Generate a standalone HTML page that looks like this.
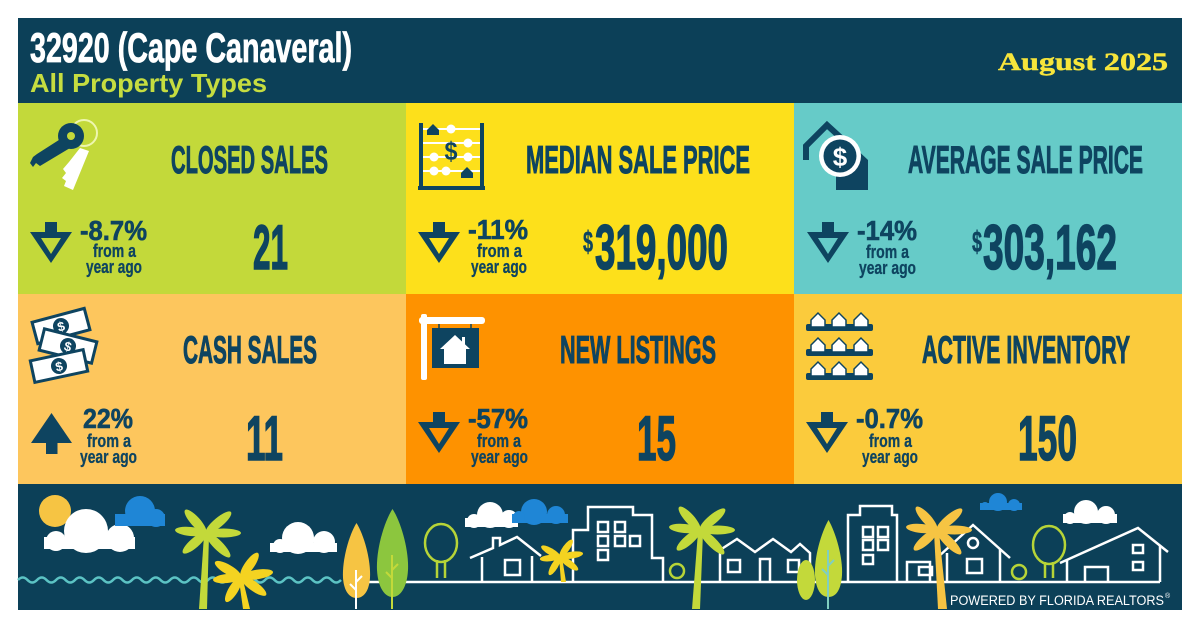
<!DOCTYPE html>
<html><head><meta charset="utf-8"><style>
html,body{margin:0;padding:0;background:#fff;width:1200px;height:628px;overflow:hidden}
svg{display:block}
</style></head><body>
<svg width="1200" height="628" viewBox="0 0 1200 628" xmlns="http://www.w3.org/2000/svg">
<defs>
<g id="dn"><path d="M0 10H42L21 41Z M11 16L21 32L31 16Z" fill-rule="evenodd"/><rect x="15" y="0" width="12" height="12"/></g>
<g id="up"><path d="M20.5 0L41 30H0Z"/><rect x="15" y="29" width="11.5" height="12"/></g>
<g id="palm">
<ellipse rx="15.5" ry="4.8" transform="translate(-10.5,-11.5) rotate(-132)"/>
<ellipse rx="16.3" ry="4.8" transform="translate(12.5,-10.5) rotate(-40)"/>
<ellipse rx="15.5" ry="4.5" transform="translate(-15.5,-1.5) rotate(-174.5)"/>
<ellipse rx="17.5" ry="4.5" transform="translate(17.5,0)"/>
<ellipse rx="15.3" ry="4.8" transform="translate(-11.5,10) rotate(139)"/>
<ellipse rx="17" ry="4.8" transform="translate(12,12) rotate(45)"/>
</g>
<g id="palm2">
<ellipse rx="15" ry="4.8" transform="translate(-13,-7.5) rotate(-150)"/>
<ellipse rx="14.7" ry="4.8" transform="translate(8.5,-12) rotate(-54.7)"/>
<ellipse rx="16.2" ry="4.8" transform="translate(16,-2.5) rotate(-8.9)"/>
<ellipse rx="14" ry="4.5" transform="translate(-14,1.5) rotate(174)"/>
<ellipse rx="14.5" ry="4.8" transform="translate(-7.5,12.5) rotate(121)"/>
<ellipse rx="15.5" ry="4.8" transform="translate(12.5,9) rotate(35.8)"/>
</g>
<g id="bill"><rect x="-27" y="-11" width="54" height="22" fill="#fff" stroke="#0e4460" stroke-width="3"/><circle r="8" fill="#0e4460"/><text x="0" y="5" font-family="Liberation Sans, Arial, sans-serif" font-weight="bold" font-size="13" fill="#fff" text-anchor="middle">$</text></g>
<g id="hs"><path d="M-7 -4L0 -11L7 -4V3H-7Z" fill="#fff" stroke="#0e4460" stroke-width="1.5"/></g>
</defs>

<!-- main panel -->
<rect x="18" y="18" width="1164" height="592" fill="#0c4058"/>

<!-- header -->
<text x="30" y="62" font-family="Liberation Sans, Arial, sans-serif" font-weight="bold" font-size="42" fill="#fff" stroke="#fff" stroke-width="0.8" textLength="322" lengthAdjust="spacingAndGlyphs">32920 (Cape Canaveral)</text>
<text x="30" y="92" font-family="Liberation Sans, Arial, sans-serif" font-weight="bold" font-size="26" fill="#c6dd40" textLength="237" lengthAdjust="spacingAndGlyphs">All Property Types</text>
<text x="998" y="70" font-family="Liberation Serif, serif" font-weight="bold" font-size="25" fill="#f7e53b" stroke="#f7e53b" stroke-width="0.4" textLength="170" lengthAdjust="spacingAndGlyphs">August 2025</text>

<!-- tiles -->
<rect x="18" y="103" width="388" height="191" fill="#c3d93a"/>
<rect x="406" y="103" width="388" height="191" fill="#fde01b"/>
<rect x="794" y="103" width="388" height="191" fill="#66cbc8"/>
<rect x="18" y="294" width="388" height="190" fill="#fdc65d"/>
<rect x="406" y="294" width="388" height="190" fill="#fe9200"/>
<rect x="794" y="294" width="388" height="190" fill="#fbcb3c"/>

<g font-family="Liberation Sans, Arial, sans-serif" font-weight="bold" fill="#0e4460" stroke="#0e4460" lengthAdjust="spacingAndGlyphs">
<text x="171" y="173" font-size="39" stroke-width="1" textLength="157" lengthAdjust="spacingAndGlyphs">CLOSED SALES</text>
<text x="526" y="173" font-size="39" stroke-width="1" textLength="224" lengthAdjust="spacingAndGlyphs">MEDIAN SALE PRICE</text>
<text x="908" y="173" font-size="39" stroke-width="1" textLength="235" lengthAdjust="spacingAndGlyphs">AVERAGE SALE PRICE</text>
<text x="183" y="363" font-size="39" stroke-width="1" textLength="134" lengthAdjust="spacingAndGlyphs">CASH SALES</text>
<text x="560" y="363" font-size="39" stroke-width="1" textLength="156" lengthAdjust="spacingAndGlyphs">NEW LISTINGS</text>
<text x="922" y="363" font-size="39" stroke-width="1" textLength="208" lengthAdjust="spacingAndGlyphs">ACTIVE INVENTORY</text>

<text x="253" y="269" font-size="63" stroke-width="1.5" textLength="35" lengthAdjust="spacingAndGlyphs">21</text>
<text x="583" y="252" font-size="30" stroke-width="0.5" textLength="10" lengthAdjust="spacingAndGlyphs">$</text>
<text x="595" y="269" font-size="63" stroke-width="1.5" textLength="133" lengthAdjust="spacingAndGlyphs">319,000</text>
<text x="972" y="252" font-size="30" stroke-width="0.5" textLength="10" lengthAdjust="spacingAndGlyphs">$</text>
<text x="983" y="269" font-size="63" stroke-width="1.5" textLength="134" lengthAdjust="spacingAndGlyphs">303,162</text>
<text x="246" y="460" font-size="63" stroke-width="1.5" textLength="37" lengthAdjust="spacingAndGlyphs">11</text>
<text x="637" y="460" font-size="63" stroke-width="1.5" textLength="39" lengthAdjust="spacingAndGlyphs">15</text>
<text x="1018" y="460" font-size="63" stroke-width="1.5" textLength="59" lengthAdjust="spacingAndGlyphs">150</text>

<text x="80" y="240" font-size="28" stroke-width="0.6" textLength="67" lengthAdjust="spacingAndGlyphs">-8.7%</text>
<text x="93" y="257" font-size="18" stroke-width="0.3" textLength="43" lengthAdjust="spacingAndGlyphs">from a</text>
<text x="86" y="273" font-size="18" stroke-width="0.3" textLength="56" lengthAdjust="spacingAndGlyphs">year ago</text>
<text x="468" y="239" font-size="28" stroke-width="0.6" textLength="60" lengthAdjust="spacingAndGlyphs">-11%</text>
<text x="477" y="257" font-size="18" stroke-width="0.3" textLength="45" lengthAdjust="spacingAndGlyphs">from a</text>
<text x="471" y="273" font-size="18" stroke-width="0.3" textLength="56" lengthAdjust="spacingAndGlyphs">year ago</text>
<text x="857" y="240" font-size="28" stroke-width="0.6" textLength="60" lengthAdjust="spacingAndGlyphs">-14%</text>
<text x="866" y="258" font-size="18" stroke-width="0.3" textLength="43" lengthAdjust="spacingAndGlyphs">from a</text>
<text x="859" y="274" font-size="18" stroke-width="0.3" textLength="57" lengthAdjust="spacingAndGlyphs">year ago</text>

<text x="83" y="428" font-size="28" stroke-width="0.6" textLength="50" lengthAdjust="spacingAndGlyphs">22%</text>
<text x="87" y="447" font-size="18" stroke-width="0.3" textLength="44" lengthAdjust="spacingAndGlyphs">from a</text>
<text x="80" y="463" font-size="18" stroke-width="0.3" textLength="57" lengthAdjust="spacingAndGlyphs">year ago</text>
<text x="468" y="428" font-size="28" stroke-width="0.6" textLength="60" lengthAdjust="spacingAndGlyphs">-57%</text>
<text x="477" y="447" font-size="18" stroke-width="0.3" textLength="44" lengthAdjust="spacingAndGlyphs">from a</text>
<text x="471" y="463" font-size="18" stroke-width="0.3" textLength="57" lengthAdjust="spacingAndGlyphs">year ago</text>
<text x="856" y="428" font-size="28" stroke-width="0.6" textLength="67" lengthAdjust="spacingAndGlyphs">-0.7%</text>
<text x="869" y="447" font-size="18" stroke-width="0.3" textLength="43" lengthAdjust="spacingAndGlyphs">from a</text>
<text x="862" y="463" font-size="18" stroke-width="0.3" textLength="56" lengthAdjust="spacingAndGlyphs">year ago</text>
</g>

<!-- arrows -->
<g fill="#0e4460">
<use href="#dn" x="30" y="222"/>
<use href="#dn" x="418" y="222"/>
<use href="#dn" x="807" y="222"/>
<use href="#dn" x="418" y="412"/>
<use href="#dn" x="806" y="412"/>
<use href="#up" x="31" y="413"/>
</g>

<!-- key icon -->
<g>
<path d="M80 148 L89 151 L73 190 L64 186 L66 181 L62 178 L66 173 L63 169 L69 162Z" fill="#fff"/>
<circle cx="84" cy="133" r="13" fill="none" stroke="#eef6b0" stroke-width="2"/>
<circle cx="71" cy="136" r="13" fill="#0e4460"/>
<path d="M62 138 L70 148 L40 166 L36 163 L33 167 L30 163 L33 157 L37 154Z" fill="#0e4460"/>
<circle cx="71" cy="136" r="4" fill="#c3d93a"/>
</g>

<!-- abacus icon -->
<g>
<rect x="419" y="123" width="4" height="67" fill="#0e4460"/>
<rect x="480" y="123" width="4" height="67" fill="#0e4460"/>
<rect x="418" y="186" width="67" height="4" fill="#0e4460"/>
<g stroke="#fff" stroke-width="2"><line x1="423" y1="129" x2="480" y2="129"/><line x1="423" y1="143" x2="480" y2="143"/><line x1="423" y1="157" x2="480" y2="157"/><line x1="423" y1="171" x2="480" y2="171"/></g>
<g fill="#fff"><circle cx="451" cy="129" r="4.5"/><circle cx="468" cy="143" r="4.5"/><circle cx="434" cy="157" r="4.5"/><circle cx="468" cy="157" r="4.5"/><circle cx="434" cy="171" r="4.5"/><circle cx="446" cy="171" r="4.5"/></g>
<path d="M427 130 L433 124 L439 130 V135 H427Z" fill="#0e4460"/>
<path d="M461 173 L467 167 L473 173 V178 H461Z" fill="#0e4460"/>
<text x="451" y="160" font-family="Liberation Sans, Arial, sans-serif" font-weight="bold" font-size="26" fill="#0e4460" text-anchor="middle" textLength="13" lengthAdjust="spacingAndGlyphs">$</text>
</g>

<!-- average price icon -->
<g>
<path d="M806 160 V146 L827 125 L852 148" fill="none" stroke="#0e4460" stroke-width="6"/>
<path d="M836 190 V160 L852 145 L868 160 V190Z" fill="#0e4460"/>
<circle cx="840" cy="156" r="21" fill="#fff"/>
<circle cx="840" cy="156" r="16.5" fill="#0e4460"/>
<text x="840" y="166" font-family="Liberation Sans, Arial, sans-serif" font-weight="bold" font-size="26" fill="#fff" text-anchor="middle">$</text>
</g>

<!-- cash icon -->
<use href="#bill" transform="translate(61,326) rotate(-15)"/>
<use href="#bill" transform="translate(68,346) rotate(14)"/>
<use href="#bill" transform="translate(59,366) rotate(-12)"/>

<!-- for-sale sign icon -->
<g>
<rect x="421" y="314" width="6" height="66" rx="2" fill="#fff"/>
<rect x="419" y="317" width="66" height="7" rx="3" fill="#fff"/>
<line x1="439" y1="324" x2="439" y2="329" stroke="#0e4460" stroke-width="1.5"/>
<line x1="471" y1="324" x2="471" y2="329" stroke="#0e4460" stroke-width="1.5"/>
<rect x="432" y="328" width="47" height="40" fill="#0e4460"/>
<path d="M440 349 L455 335 L470 349 H466 V364 H444 V349Z" fill="#fff"/>
<rect x="462" y="337" width="3" height="8" fill="#fff"/>
</g>

<!-- inventory icon -->
<g>
<g fill="#0e4460"><rect x="806" y="324" width="67" height="7" rx="2"/><rect x="806" y="349" width="67" height="7" rx="2"/><rect x="806" y="373" width="67" height="7" rx="2"/></g>
<use href="#hs" x="818" y="324"/><use href="#hs" x="839" y="324"/><use href="#hs" x="861" y="324"/>
<use href="#hs" x="818" y="349"/><use href="#hs" x="839" y="349"/><use href="#hs" x="861" y="349"/>
<use href="#hs" x="818" y="373"/><use href="#hs" x="839" y="373"/><use href="#hs" x="861" y="373"/>
</g>

<!-- bottom illustration -->
<g>
<circle cx="55" cy="511" r="16" fill="#f6c443"/>
<g fill="#fff">
<circle cx="86" cy="531" r="22"/><circle cx="120" cy="538" r="14"/><circle cx="56" cy="541" r="10"/><rect x="44" y="537" width="91" height="12"/>
<circle cx="298" cy="538" r="16"/><circle cx="324" cy="542" r="11"/><circle cx="280" cy="546" r="7"/><rect x="270" y="543" width="67" height="9"/>
<circle cx="490" cy="515" r="13"/><circle cx="509" cy="519" r="9"/><circle cx="474" cy="521" r="7"/><rect x="465" y="518" width="53" height="9"/>
<circle cx="1086" cy="512" r="12"/><circle cx="1106" cy="515" r="9"/><circle cx="1070" cy="518" r="6"/><rect x="1063" y="514" width="54" height="9"/>
</g>
<g fill="#1f86d6">
<circle cx="140" cy="511" r="15"/><circle cx="156" cy="518" r="9"/><rect x="115" y="514" width="50" height="12"/><circle cx="123" cy="520" r="6"/>
<circle cx="534" cy="512" r="13"/><circle cx="556" cy="515" r="9"/><rect x="512" y="514" width="56" height="9"/><circle cx="519" cy="517" r="6"/>
<circle cx="998" cy="502" r="9"/><circle cx="1014" cy="505" r="6"/><rect x="980" y="503" width="42" height="7"/><circle cx="985" cy="506" r="4"/>
</g>
<path d="M18 580 q4.75 -5 9.5 0 t9.5 0 t9.5 0 t9.5 0 t9.5 0 t9.5 0 t9.5 0 t9.5 0 t9.5 0 t9.5 0 t9.5 0 t9.5 0 t9.5 0 t9.5 0 t9.5 0 t9.5 0 t9.5 0 t9.5 0 t9.5 0 t9.5 0 t9.5 0 t9.5 0 t9.5 0 t9.5 0 t9.5 0 t9.5 0 t9.5 0 t9.5 0 t9.5 0 t9.5 0 t9.5 0 t9.5 0 t9.5 0 t9.5 0" fill="none" stroke="#5cc3c4" stroke-width="2.5"/>

<g fill="none" stroke="#fff" stroke-width="2.5" stroke-linejoin="miter">
<path d="M360 582 H1160"/>
<path d="M482 582 V557"/>
<path d="M470 558 L493 548 V538 H500 V545 L517 537 L541 556"/>
<path d="M532 556 V582"/>
<path d="M573 582 V530 H588 V507 H633 V515 H652 V558 H663 V582"/>
<path d="M720 582 V550 L737 539 L755 552 L773 539 L791 552 L800 544 L810 553 V582"/>
<path d="M848 582 V515 H860 V506 H892 V515 H897 V582"/>
<path d="M907 582 V562 H930 V582"/>
<path d="M938 557 L973 525 L1010 558"/>
<path d="M947 553 V582 M1000 549 V582"/>
<path d="M1060 563 L1138 528 L1168 552"/>
<path d="M1067 560 V582 M1160 546 V582"/>
<rect x="505" y="560" width="15" height="15"/>
<rect x="598" y="522" width="10" height="10"/><rect x="615" y="522" width="10" height="10"/>
<rect x="598" y="536" width="10" height="10"/><rect x="615" y="536" width="10" height="10"/><rect x="630" y="536" width="10" height="10"/>
<rect x="598" y="550" width="10" height="10"/>
<rect x="728" y="560" width="12" height="12"/><path d="M760 582 V559 H770 V582"/><rect x="788" y="560" width="11" height="12"/>
<rect x="863" y="527" width="10" height="10"/><rect x="878" y="527" width="10" height="10"/>
<rect x="863" y="540" width="10" height="10"/><rect x="878" y="540" width="10" height="10"/>
<rect x="863" y="555" width="10" height="9"/>
<rect x="919" y="567" width="13" height="8"/>
<circle cx="973" cy="543" r="5"/><rect x="967" y="559" width="15" height="14"/>
<path d="M1085 582 V567 H1108 V582"/>
<rect x="1133" y="545" width="10" height="8"/><rect x="1133" y="562" width="10" height="8"/>
</g>

<g fill="none" stroke="#b7d437" stroke-width="2.5">
<ellipse cx="441" cy="543" rx="16" ry="19"/><path d="M437 560 V578 M445 560 V578"/>
<ellipse cx="1049" cy="545" rx="16" ry="19"/><path d="M1045 562 V578 M1053 562 V578"/>
<circle cx="677" cy="571" r="7"/><circle cx="1019" cy="572" r="7"/>
</g>

<path d="M356.5 523 C364 535 371 560 370 578 C369 592 363 598 356.5 598 C350 598 344 592 343 578 C342 560 349 535 356.5 523Z" fill="#f6c443"/>
<path d="M356 570 V609 M356 590 L350 584 M356 582 L362 576" stroke="#fff" stroke-width="2" fill="none"/>
<path d="M392.5 509 C401 522 409 550 408 570 C407 588 400 597 392.5 597 C385 597 378 588 377 570 C376 550 384 522 392.5 509Z" fill="#8cc63e"/>
<path d="M392 555 V609 M392 578 L386 572 M392 570 L398 564" stroke="#c3d93a" stroke-width="2" fill="none"/>
<ellipse cx="806" cy="580" rx="9" ry="20" fill="#c3d93a"/>
<path d="M828.5 520 C836 533 843 558 842 575 C841 590 836 597 828.5 597 C821 597 816 590 815 575 C814 558 821 533 828.5 520Z" fill="#c3d93a"/>
<path d="M828 550 V609 M828 575 L822 569 M828 566 L834 560" stroke="#80cfc0" stroke-width="2" fill="none"/>

<path d="M204 535 L209 535 L207 609 L199 609Z" fill="#c3d93a"/>
<use href="#palm" x="206" y="533" fill="#c3d93a"/>
<path d="M239 580 L243 580 L250 609 L243 609Z" fill="#f4d321"/>
<use href="#palm2" x="241" y="577" fill="#f4d321"/>
<path d="M559 557 L562 557 L566 582 L561 582Z" fill="#f4d321"/>
<use href="#palm2" transform="translate(560,557) scale(0.72)" fill="#f4d321"/>
<path d="M698 532 L703 532 L700 609 L692 609Z" fill="#c3d93a"/>
<use href="#palm" x="700" y="530" fill="#c3d93a"/>
<path d="M934 532 L939 532 L947 609 L938 609Z" fill="#f6c443"/>
<use href="#palm" x="937" y="530" fill="#f6c443"/>

<text x="950" y="605" font-family="Liberation Sans, Arial, sans-serif" font-size="13.5" fill="#fff" textLength="214" lengthAdjust="spacingAndGlyphs">POWERED BY FLORIDA REALTORS</text>
<text x="1165" y="598" font-family="Liberation Sans, Arial, sans-serif" font-size="7" fill="#fff">®</text>
</g>
</svg>
</body></html>
